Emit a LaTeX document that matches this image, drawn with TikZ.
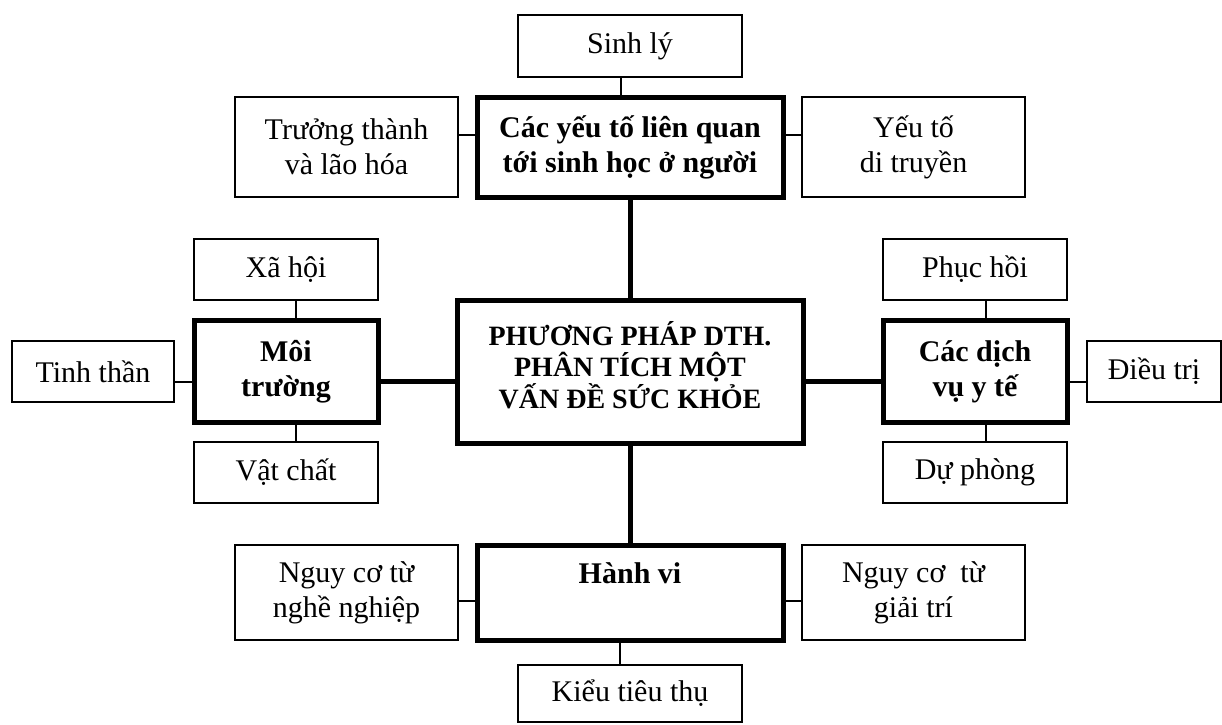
\documentclass[tikz,border=0pt]{standalone}
\usepackage{fontspec}
\setmainfont{Liberation Serif}
\usetikzlibrary{positioning,calc}

\begin{document}
\begin{tikzpicture}[x=0.5pt,y=-0.5pt,
    box/.style={draw, line width=1pt, align=center, inner sep=0pt, font=\fontsize{15}{17.5}\selectfont},
    mainbox/.style={box, line width=2.5pt, font=\fontsize{15}{17.5}\selectfont\bfseries},
    link/.style={line width=1pt},
    mainlink/.style={line width=2.5pt}]

    \useasboundingbox (0,0) rectangle (1222,724);

    % sinh hoc
    \node [box, minimum width=112pt, minimum height=31pt] (sinhly) at (630,46) {Sinh lý};
    \node [mainbox, minimum width=153pt, minimum height=50pt] (sinhhoc) at (630,147) {Các yếu tố liên quan\\tới sinh học ở người};
    \node [box, minimum width=111.5pt, minimum height=50pt] (truongthanh) at (346.5,147) {Trưởng thành\\và lão hóa};
    \node [box, minimum width=111.5pt, minimum height=50pt] (ditruyen) at (913.5,147) {Yếu tố\\di truyền};

    \node [mainbox, font=\fontsize{14}{15.5}\selectfont\bfseries, minimum width=173pt, minimum height=71.5pt] (dth) at (630,371.5)
        {\raisebox{0pt}[\height][\dimexpr\depth+2pt\relax]{\begin{tabular}{@{}c@{}}PHƯƠNG PHÁP DTH.\\[-1.2pt]PHÂN TÍCH MỘT\\[-1.2pt]VẤN ĐỀ SỨC KHỎE\end{tabular}}};

    % moi truong
    \node [box, minimum width=92pt, minimum height=30.5pt] (xahoi) at (286,269.5) {Xã hội};
    \node [mainbox, minimum width=92pt, minimum height=51pt] (moitruong) at (286,371.5) {Môi\\trường};
    \node [box, minimum width=92pt, minimum height=30.5pt] (vatchat) at (286,472.5) {Vật chất};
    \node [box, minimum width=81pt, minimum height=30.5pt] (tinhthan) at (93,371.5) {Tinh thần};

    % dich vu y te
    \node [box, minimum width=92pt, minimum height=30.5pt] (phuchoi) at (975,269.5) {Phục hồi};
    \node [mainbox, minimum width=92pt, minimum height=51pt] (dichvu) at (975,371.5) {Các dịch\\vụ y tế};
    \node [box, minimum width=92pt, minimum height=30.5pt] (duphong) at (975,472.5) {Dự phòng};
    \node [box, minimum width=67pt, minimum height=30.5pt] (dieutri) at (1154,371.5) {Điều trị};

    % hanh vi
    \node [mainbox, minimum width=153pt, minimum height=47.5pt, text height=11pt, text depth=20.5pt] (hanhvi) at (630,592.5) {Hành vi};
    \node [box, minimum width=111.5pt, minimum height=47.5pt] (nghenghiep) at (346.5,592.5) {Nguy cơ từ\\nghề nghiệp};
    \node [box, minimum width=111.5pt, minimum height=47.5pt] (giaitri) at (913.5,592.5) {Nguy cơ\ \ từ\\giải trí};
    \node [box, minimum width=112pt, minimum height=28.5pt] (kieutieuthu) at (630,693) {Kiểu tiêu thụ};

    \draw [link] ([xshift=-4.5pt]sinhly.south) -- ([xshift=-4.5pt]sinhhoc.north);
    \draw [link] ([yshift=6pt]truongthanh.east) -- ([yshift=6pt]sinhhoc.west);
    \draw [link] ([yshift=6pt]sinhhoc.east) -- ([yshift=6pt]ditruyen.west);
    \draw [mainlink] (sinhhoc) -- (dth);

    \draw [mainlink] ([yshift=-5pt]moitruong.east) -- ([yshift=-5pt]dth.west);
    \draw [link] ([yshift=-5pt]tinhthan.east) -- ([yshift=-5pt]moitruong.west);
    \draw [link] ([xshift=5pt]xahoi.south) -- ([xshift=5pt]moitruong.north);
    \draw [link] ([xshift=5pt]moitruong.south) -- ([xshift=5pt]vatchat.north);

    \draw [mainlink] ([yshift=-5pt]dth.east) -- ([yshift=-5pt]dichvu.west);
    \draw [link] ([yshift=-5pt]dichvu.east) -- ([yshift=-5pt]dieutri.west);
    \draw [link] ([xshift=5.5pt]phuchoi.south) -- ([xshift=5.5pt]dichvu.north);
    \draw [link] ([xshift=5.5pt]dichvu.south) -- ([xshift=5.5pt]duphong.north);

    \draw [mainlink] (dth) -- (hanhvi);
    \draw [link] ([yshift=-4pt]nghenghiep.east) -- ([yshift=-4pt]hanhvi.west);
    \draw [link] ([yshift=-4pt]hanhvi.east) -- ([yshift=-4pt]giaitri.west);
    \draw [link] ([xshift=-5pt]hanhvi.south) -- ([xshift=-5pt]kieutieuthu.north);
\end{tikzpicture}
\end{document}
